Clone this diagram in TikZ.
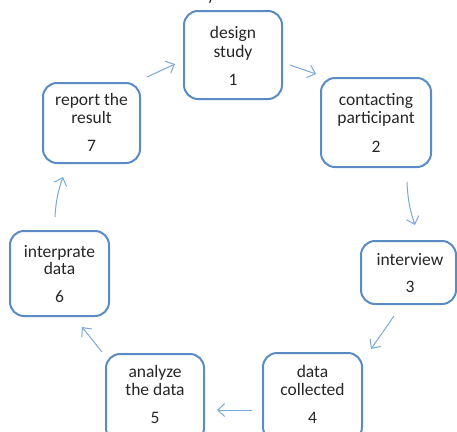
\documentclass[tikz,border=0pt]{standalone}
\usepackage{fontspec}
\setmainfont{Carlito}
\usetikzlibrary{arrows.meta}
\definecolor{boxblue}{HTML}{5B8BC5}
\definecolor{arrblue}{HTML}{7BA8DA}
\definecolor{txtgray}{HTML}{262626}
\tikzset{
  stepbox/.style={draw=boxblue, line width=2pt, rounded corners=14pt, inner sep=0pt},
  txt/.style={anchor=base, inner sep=0pt, text=txtgray, font=\fontsize{17.5}{19}\selectfont},
  flow/.style={draw=arrblue, line width=1pt, -{Straight Barb[length=7pt,width=13pt]}}
}
\begin{document}
\begin{tikzpicture}[x=1pt,y=-1pt]
\useasboundingbox (0,0) rectangle (457,431);
% boxes
\node[stepbox, minimum width=98pt, minimum height=88pt] (b1) at (233,55) {};
\node[stepbox, minimum width=110pt, minimum height=89pt] (b2) at (376,122.5) {};
\node[stepbox, minimum width=95pt, minimum height=63pt] (b3) at (408.5,272.5) {};
\node[stepbox, minimum width=99pt, minimum height=88pt] (b4) at (312.5,397) {};
\node[stepbox, minimum width=98pt, minimum height=88pt] (b5) at (155,398) {};
\node[stepbox, minimum width=99pt, minimum height=85pt] (b6) at (59.5,273.5) {};
\node[stepbox, minimum width=97pt, minimum height=80pt] (b7) at (91.5,123) {};
% texts
\node[txt] (t1a) at (233,38) {design};
\node[txt] (t1b) at (233,57) {study};
\node[txt] (t1c) at (233,85) {1};
\node[txt] (t2a) at (376,105) {contacting};
\node[txt] (t2b) at (376,123) {participant};
\node[txt] (t2c) at (376,152) {2};
\node[txt] (t3a) at (410,265) {interview};
\node[txt] (t3b) at (410,292) {3};
\node[txt] (t4a) at (312.5,377) {data};
\node[txt] (t4b) at (312.5,395) {collected};
\node[txt] (t4c) at (312.5,423) {4};
\node[txt] (t5a) at (155,377) {analyze};
\node[txt] (t5b) at (155,395) {the data};
\node[txt] (t5c) at (155,423) {5};
\node[txt] (t6a) at (59.5,257) {interprate};
\node[txt] (t6b) at (59.5,274) {data};
\node[txt] (t6c) at (59.5,302) {6};
\node[txt] (t7a) at (91.5,105) {report the};
\node[txt] (t7b) at (91.5,123) {result};
\node[txt] (t7c) at (91.5,151) {7};
\node[txt] (ty) at (211,0.5) {y};
% arrow ends
\coordinate (a12s) at (290,65);  \coordinate (a12e) at (316,74);
\coordinate (a23s) at (407,182); \coordinate (a23e) at (415,225);
\coordinate (a34s) at (394,316); \coordinate (a34e) at (371,349);
\coordinate (a45s) at (252,410); \coordinate (a45e) at (217,410);
\coordinate (a56s) at (102,352); \coordinate (a56e) at (82,327);
\coordinate (a67s) at (55,217);  \coordinate (a67e) at (63,177);
\coordinate (a71s) at (147,77);  \coordinate (a71e) at (175,64);
% arrows
\draw[flow] (a12s) -- (a12e);
\draw[flow] (a23s) to[bend right=8] (a23e);
\draw[flow] (a34s) -- (a34e);
\draw[flow] (a45s) -- (a45e);
\draw[flow] (a56s) -- (a56e);
\draw[flow] (a67s) to[bend left=8] (a67e);
\draw[flow] (a71s) -- (a71e);
\end{tikzpicture}
\end{document}
